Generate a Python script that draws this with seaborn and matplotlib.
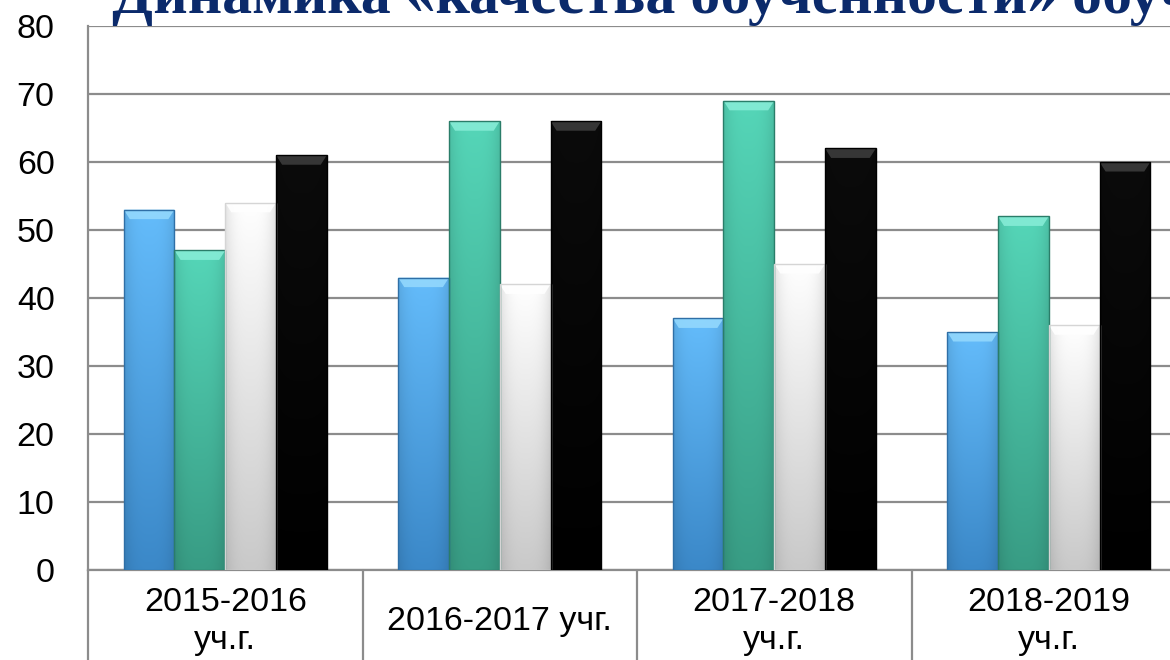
import numpy as np
import pandas as pd
import matplotlib
matplotlib.use("Agg")
import matplotlib.pyplot as plt
import matplotlib.colors as mcolors
from matplotlib.patches import Polygon
import seaborn as sns

# ---- data ----
years = ["2015-2016\nуч.г.", "2016-2017 учг.", "2017-2018\nуч.г.", "2018-2019\nуч.г."]
series_names = ["Ряд 1", "Ряд 2", "Ряд 3", "Ряд 4"]
series1 = [53, 43, 37, 35]
series2 = [47, 66, 69, 52]
series3 = [54, 42, 45, 36]
series4 = [61, 66, 62, 60]
yticks = [0, 10, 20, 30, 40, 50, 60, 70, 80]
title = "Динамика «качества обученности» обучающихся"

df = pd.DataFrame({
    "year": years * 4,
    "series": [s for s in series_names for _ in years],
    "value": series1 + series2 + series3 + series4,
})

# style per series: (top colour, bottom colour, bevel colour, edge colour)
styles = {
    "Ряд 1": ("#64bcfb", "#3b88c8", "#93d8fd", "#2f6fa6"),
    "Ряд 2": ("#55d6b8", "#389c84", "#86ecd6", "#2a7d69"),
    "Ряд 3": ("#ffffff", "#c9c9c9", "#ffffff", "#d5d5d5"),
    "Ряд 4": ("#0b0b0b", "#000000", "#3c3c3c", "#000000"),
}
palette = {k: styles[k][0] for k in series_names}

sns.set_theme(style="white")
plt.rcParams["font.family"] = ["Liberation Sans", "DejaVu Sans"]
plt.rcParams["text.color"] = "black"

W, H = 1170, 660
fig = plt.figure(figsize=(W / 100, H / 100), dpi=100)
fig.patch.set_facecolor("white")
ax = fig.add_axes([88 / W, (H - 570) / H, (1186 - 88) / W, (570 - 26) / H])

sns.barplot(data=df, x="year", y="value", hue="series", hue_order=series_names,
            order=years, palette=palette, width=0.74, legend=False, ax=ax,
            saturation=1, errorbar=None, zorder=3)

# gradient + bevel rendering of bars
n = len(years)
for i, patch in enumerate(list(ax.patches)):
    sname = series_names[i // n]
    top_c, bot_c, bev_c, edge_c = styles[sname]
    x0 = patch.get_x()
    w = patch.get_width()
    h = patch.get_height()
    if h <= 0:
        continue
    patch.set_facecolor("none")
    patch.set_edgecolor(edge_c)
    patch.set_linewidth(1.0)
    patch.set_zorder(5)
    c1 = np.array(mcolors.to_rgb(top_c))
    c2 = np.array(mcolors.to_rgb(bot_c))
    t = np.linspace(0, 1, 256)[:, None]
    grad = (c1[None, :] * (1 - t) + c2[None, :] * t)[:, None, :]
    xs = np.linspace(0, 1, 32)
    shade = 1 - 0.10 * (np.abs(xs - 0.5) * 2) ** 3
    img = grad * shade[None, :, None]
    im = ax.imshow(np.clip(img, 0, 1), extent=[x0, x0 + w, 0, h], origin="upper",
                   aspect="auto", zorder=4, interpolation="bilinear")
    im.set_clip_path(patch)
    bev = 1.4
    inset = w * 0.12
    poly = Polygon([[x0, h], [x0 + w, h], [x0 + w - inset, h - bev], [x0 + inset, h - bev]],
                   closed=True, facecolor=bev_c, edgecolor="none", zorder=4.5, alpha=0.9)
    ax.add_patch(poly)

ax.set_xlim(-0.5, n - 0.5)
ax.set_ylim(0, 80)
ax.set_yticks(yticks)
ax.set_yticklabels([str(v) for v in yticks], fontsize=24.5, color="black")
ax.tick_params(axis="y", length=0, pad=24)
ax.set_xticks(range(n))
ax.set_xticklabels([])
ax.tick_params(axis="x", length=0)
ax.set_xlabel("")
ax.set_ylabel("")
ax.yaxis.grid(True, color="#8c8c8c", linewidth=1.6, zorder=1)
ax.xaxis.grid(False)
for side in ["top", "right"]:
    ax.spines[side].set_visible(False)
for side in ["left", "bottom"]:
    ax.spines[side].set_color("#8c8c8c")
    ax.spines[side].set_linewidth(1.6)

# category label table
trans = ax.get_xaxis_transform()
for b in np.arange(-0.5, n, 1.0):
    ax.plot([b, b], [0, -0.3], transform=trans, color="#8c8c8c", lw=1.6, clip_on=False)
for i, lab in enumerate(years):
    ax.annotate(lab, xy=(i, 0), xycoords=trans, xytext=(0, -37), textcoords="offset points",
                ha="center", va="center", fontsize=24.5, linespacing=1.3, color="black",
                annotation_clip=False)

fig.text(112 / W, (H - 13) / H, title, fontsize=43, fontweight="bold",
         family=["Liberation Serif", "DejaVu Serif"], color="#0b2a6b",
         ha="left", va="baseline")

fig.savefig("out.png", dpi=100)
